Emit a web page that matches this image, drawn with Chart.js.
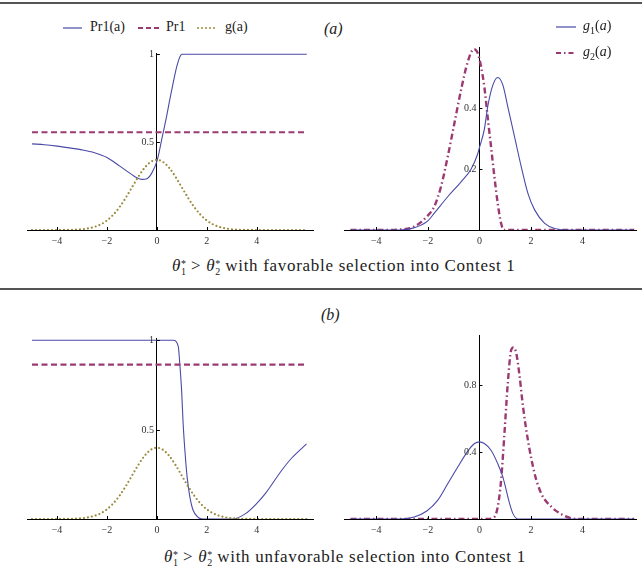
<!DOCTYPE html>
<html>
<head>
<meta charset="utf-8">
<script src="https://cdn.jsdelivr.net/npm/chart.js@4"></script>
<style>
  body { margin: 0; background: #fff; font-family: "Liberation Serif", "Times New Roman", Times, serif; }
  #wrap { position: relative; width: 642px; height: 577px; overflow: hidden; }
  canvas { position: absolute; }
  .rule { position: absolute; left: 0; width: 642px; height: 2px; background: #555; }
  .txt { position: absolute; white-space: nowrap; color: #222; }
  .cap { font-size: 17px; letter-spacing: 0.7px; }
  .panel { font-style: italic; font-size: 16px; }
  .leg { font-size: 14px; }
  .ss { display: inline-block; vertical-align: -4px; line-height: 8px; font-size: 10px; text-align: left; letter-spacing: 0; }
  .ss span { display: block; }
  svg { position: absolute; }
</style>
</head>
<body>
<div id="wrap">
  <div class="rule" style="top:2px"></div>
  <div class="rule" style="top:288px"></div>

  <canvas id="grafico-a-esq" width="321" height="215" style="left:0;top:40px"></canvas>
  <canvas id="grafico-a-dir" width="321" height="215" style="left:321px;top:40px"></canvas>
  <canvas id="grafico-b-esq" width="321" height="220" style="left:0;top:325px"></canvas>
  <canvas id="grafico-b-dir" width="321" height="220" style="left:321px;top:325px"></canvas>

  <!-- legenda de cima, esquerda -->
  <svg width="220" height="12" style="left:60px;top:22px">
    <line x1="3" y1="6" x2="22" y2="6" stroke="#4a4aa8" stroke-width="1.2"/>
    <line x1="78" y1="6" x2="100" y2="6" stroke="#9b3a72" stroke-width="2" stroke-dasharray="5,3"/>
    <line x1="138" y1="6" x2="158" y2="6" stroke="#9a8a3c" stroke-width="2" stroke-dasharray="0,4" stroke-linecap="round"/>
  </svg>
  <div class="txt leg" style="left:90px;top:19px">Pr1(a)</div>
  <div class="txt leg" style="left:166px;top:19px">Pr1</div>
  <div class="txt leg" style="left:225px;top:19px">g(a)</div>

  <div class="txt panel" style="left:324px;top:20px">(a)</div>

  <!-- legenda de cima, direita -->
  <svg width="30" height="40" style="left:553px;top:21px">
    <line x1="3" y1="6" x2="23" y2="6" stroke="#4a4aa8" stroke-width="1.2"/>
    <line x1="3" y1="32" x2="23" y2="32" stroke="#9b3a72" stroke-width="2" stroke-dasharray="5,3,1.5,3"/>
  </svg>
  <div class="txt leg" style="left:583px;top:18px"><i>g</i><sub style="font-size:10px">1</sub>(<i>a</i>)</div>
  <div class="txt leg" style="left:583px;top:44px"><i>g</i><sub style="font-size:10px">2</sub>(<i>a</i>)</div>

  <div class="txt cap" style="left:172px;top:256px"><i>θ</i><span class="ss"><span>*</span><span>1</span></span> &gt; <i>θ</i><span class="ss"><span>*</span><span>2</span></span> with favorable selection into Contest 1</div>

  <div class="txt panel" style="left:321px;top:306px">(b)</div>

  <div class="txt cap" style="left:164px;top:547px"><i>θ</i><span class="ss"><span>*</span><span>1</span></span> &gt; <i>θ</i><span class="ss"><span>*</span><span>2</span></span> with unfavorable selection into Contest 1</div>
</div>

<script>
// Rótulos dos eixos
var ticksX = [-4, -2, 0, 2, 4];
var ticksYaEsq = [0.5, 1];
var ticksYaDir = [0.2, 0.4];
var ticksYbEsq = [0.5, 1];
var ticksYbDir = [0.4, 0.8];

// Densidade normal g(a), usada nos dois painéis da esquerda
var xG = [-5, -4.75, -4.5, -4.25, -4, -3.75, -3.5, -3.25, -3, -2.75, -2.5, -2.25, -2, -1.75, -1.5, -1.25, -1, -0.75, -0.5, -0.25,
  0, 0.25, 0.5, 0.75, 1, 1.25, 1.5, 1.75, 2, 2.25, 2.5, 2.75, 3, 3.25, 3.5, 3.75, 4, 4.25, 4.5, 4.75, 5, 5.5, 6];
var yG = [0, 0, 0, 0, 0.0001, 0.0004, 0.0009, 0.002, 0.0044, 0.0091, 0.0175, 0.0317, 0.054, 0.0863, 0.1295, 0.1826, 0.242, 0.3011, 0.3521, 0.3867,
  0.3989, 0.3867, 0.3521, 0.3011, 0.242, 0.1826, 0.1295, 0.0863, 0.054, 0.0317, 0.0175, 0.0091, 0.0044, 0.002, 0.0009, 0.0004, 0.0001, 0, 0, 0, 0, 0, 0];

// Painel (a) esquerda: Pr1(a) e Pr1
var xPr1a = [-5, -4.5, -4, -3.5, -3, -2.5, -2, -1.5, -1, -0.8, -0.6, -0.4, -0.2, 0, 0.1, 0.2, 0.3, 0.4, 0.5, 0.6, 0.7, 0.8, 0.9, 1.0, 6];
var yPr1a = [0.49, 0.485, 0.477, 0.467, 0.456, 0.44, 0.413, 0.365, 0.315, 0.297, 0.288, 0.292, 0.325, 0.39, 0.45, 0.52, 0.585, 0.655, 0.73, 0.8, 0.87, 0.932, 0.978, 1.0, 1.0];
var xPr1Const = [-5, 6];
var yPr1a_const = [0.556, 0.556];

// Painel (a) direita: g1(a) e g2(a)
var xG1a = [-5, -3.1, -2.5, -2, -1.75, -1.23, -0.71, -0.32, -0.065, 0, 0.19, 0.32, 0.52, 0.71, 0.91, 1.1, 1.36, 1.62, 1.88, 2.14, 2.53, 2.92, 3.57, 6];
var yG1a = [0, 0, 0.008, 0.03, 0.055, 0.109, 0.158, 0.2, 0.25, 0.27, 0.33, 0.404, 0.475, 0.5, 0.475, 0.404, 0.306, 0.208, 0.12, 0.066, 0.022, 0.005, 0, 0];
var xG2a = [-5, -4.1, -3.05, -2.53, -2.04, -1.75, -1.49, -1.23, -0.97, -0.71, -0.45, -0.22, -0.065, 0.065, 0.19, 0.32, 0.45, 0.58, 0.71, 0.84, 0.95, 6];
var yG2a = [0, 0, 0.002, 0.011, 0.044, 0.077, 0.142, 0.24, 0.35, 0.46, 0.552, 0.593, 0.58, 0.535, 0.47, 0.37, 0.273, 0.175, 0.087, 0.022, 0, 0];

// Painel (b) esquerda: Pr1(a) e Pr1
var xPr1b = [-5, 0.66, 0.855, 0.92, 0.99, 1.05, 1.12, 1.21, 1.32, 1.45, 1.64, 1.84, 3.03, 3.55, 3.99, 4.34, 5.0, 5.39, 5.99];
var yPr1b = [1, 1, 0.966, 0.863, 0.72, 0.536, 0.386, 0.236, 0.124, 0.049, 0.011, 0, 0, 0.03, 0.086, 0.142, 0.273, 0.34, 0.42];
var yPr1b_const = [0.864, 0.864];

// Painel (b) direita: g1(a) e g2(a)
var xG1b = [-5, -3.1, -2.53, -2.04, -1.62, -1.23, -0.84, -0.45, -0.19, 0, 0.19, 0.45, 0.71, 0.91, 1.04, 1.17, 1.3, 1.49, 6];
var yG1b = [0, 0, 0.012, 0.048, 0.111, 0.21, 0.31, 0.405, 0.45, 0.46, 0.45, 0.41, 0.33, 0.25, 0.171, 0.092, 0.032, 0, 0];
var xG2b = [-5, 0.32, 0.58, 0.71, 0.84, 0.97, 1.1, 1.23, 1.32, 1.43, 1.56, 1.69, 1.88, 2.14, 2.4, 2.79, 3.18, 3.57, 3.96, 6];
var yG2b = [0, 0, 0.012, 0.072, 0.23, 0.51, 0.81, 1.007, 1.023, 0.987, 0.848, 0.669, 0.47, 0.27, 0.151, 0.072, 0.028, 0.004, 0, 0];

var corAzul = "#4a4aa8";
var corRoxo = "#9b3a72";
var corOliva = "#9a8a3c";
var familia = "'Liberation Serif', 'Times New Roman', Times, serif";
var fonteTicks = { family: familia, size: 10 };

function pontos(xs, ys) {
  return xs.map(function (x, i) { return { x: x, y: ys[i] }; });
}

function formata(v) {
  return String(v).replace("-", "\u2212");
}

// marcas dos eixos para dentro (estilo Mathematica) e rótulos do eixo y à esquerda de x = 0
var eixosCentro = {
  id: "eixosCentro",
  afterDraw: function (chart) {
    var ctx = chart.ctx;
    var sx = chart.scales.x;
    var sy = chart.scales.y;
    var x0 = sx.getPixelForValue(0);
    var y0 = sy.getPixelForValue(0);
    ctx.save();
    ctx.strokeStyle = "#000";
    ctx.lineWidth = 1;
    ctx.font = "10px " + familia;
    ctx.fillStyle = "#333";
    ctx.textAlign = "right";
    ctx.textBaseline = "middle";
    sy.ticks.forEach(function (t) {
      var y = Math.round(sy.getPixelForValue(t.value)) + 0.5;
      ctx.fillText(formata(t.value), x0 - 3, y);
      ctx.beginPath();
      ctx.moveTo(x0, y);
      ctx.lineTo(x0 + 3, y);
      ctx.stroke();
    });
    sx.ticks.forEach(function (t) {
      var x = Math.round(sx.getPixelForValue(t.value)) + 0.5;
      ctx.beginPath();
      ctx.moveTo(x, y0);
      ctx.lineTo(x, y0 - 3);
      ctx.stroke();
    });
    ctx.restore();
  },
};

function serieAzul(xs, ys) {
  return { data: pontos(xs, ys), borderColor: corAzul, borderWidth: 1.1, pointRadius: 0, cubicInterpolationMode: "monotone" };
}
function serieTracejada(xs, ys) {
  return { data: pontos(xs, ys), borderColor: corRoxo, borderWidth: 2.2, borderDash: [6, 3.5], pointRadius: 0 };
}
function seriePontilhada(xs, ys) {
  return { data: pontos(xs, ys), borderColor: corOliva, borderWidth: 2.2, borderDash: [0, 4], borderCapStyle: "round", pointRadius: 0, cubicInterpolationMode: "monotone" };
}
function serieTracoPonto(xs, ys) {
  return { data: pontos(xs, ys), borderColor: corRoxo, borderWidth: 2.4, borderDash: [6, 3, 1.5, 3], pointRadius: 0, cubicInterpolationMode: "monotone" };
}

function opcoes(xMin, xMax, yMax, ticksY, pad) {
  return {
    animation: false,
    responsive: false,
    layout: { padding: pad },
    plugins: { legend: { display: false }, tooltip: { enabled: false } },
    scales: {
      x: {
        type: "linear",
        min: xMin,
        max: xMax,
        position: { y: 0 },
        afterBuildTicks: function (s) { s.ticks = ticksX.map(function (v) { return { value: v }; }); },
        grid: { display: false, drawTicks: false },
        border: { color: "#000", width: 1 },
        ticks: { font: fonteTicks, color: "#333", padding: 5, maxRotation: 0, callback: function (v) { return formata(v); } },
      },
      y: {
        type: "linear",
        min: 0,
        max: yMax,
        position: { x: 0 },
        afterBuildTicks: function (s) { s.ticks = ticksY.map(function (v) { return { value: v }; }); },
        grid: { display: false, drawTicks: false },
        border: { color: "#000", width: 1 },
        ticks: { display: false },
      },
    },
  };
}

// Painel (a) esquerda
new Chart(document.getElementById("grafico-a-esq").getContext("2d"), {
  type: "line",
  data: {
    datasets: [
      seriePontilhada(xG, yG),
      serieTracejada(xPr1Const, yPr1a_const),
      serieAzul(xPr1a, yPr1a),
    ],
  },
  options: opcoes(-5.2, 6.25, 1.007, ticksYaEsq, { left: 27, right: 8, top: 13, bottom: 25 }),
  plugins: [eixosCentro],
});

// Painel (a) direita
new Chart(document.getElementById("grafico-a-dir").getContext("2d"), {
  type: "line",
  data: {
    datasets: [
      serieAzul(xG1a, yG1a),
      serieTracoPonto(xG2a, yG2a),
    ],
  },
  options: opcoes(-5.25, 6.07, 0.6, ticksYaDir, { left: 23, right: 6, top: 7, bottom: 25 }),
  plugins: [eixosCentro],
});

// Painel (b) esquerda
new Chart(document.getElementById("grafico-b-esq").getContext("2d"), {
  type: "line",
  data: {
    datasets: [
      seriePontilhada(xG, yG),
      serieTracejada(xPr1Const, yPr1b_const),
      serieAzul(xPr1b, yPr1b),
    ],
  },
  options: opcoes(-5.2, 6.25, 1.013, ticksYbEsq, { left: 27, right: 8, top: 13, bottom: 26 }),
  plugins: [eixosCentro],
});

// Painel (b) direita
new Chart(document.getElementById("grafico-b-dir").getContext("2d"), {
  type: "line",
  data: {
    datasets: [
      serieAzul(xG1b, yG1b),
      serieTracoPonto(xG2b, yG2b),
    ],
  },
  options: opcoes(-5.25, 6.07, 1.097, ticksYbDir, { left: 23, right: 6, top: 10, bottom: 26 }),
  plugins: [eixosCentro],
});
</script>
</body>
</html>
